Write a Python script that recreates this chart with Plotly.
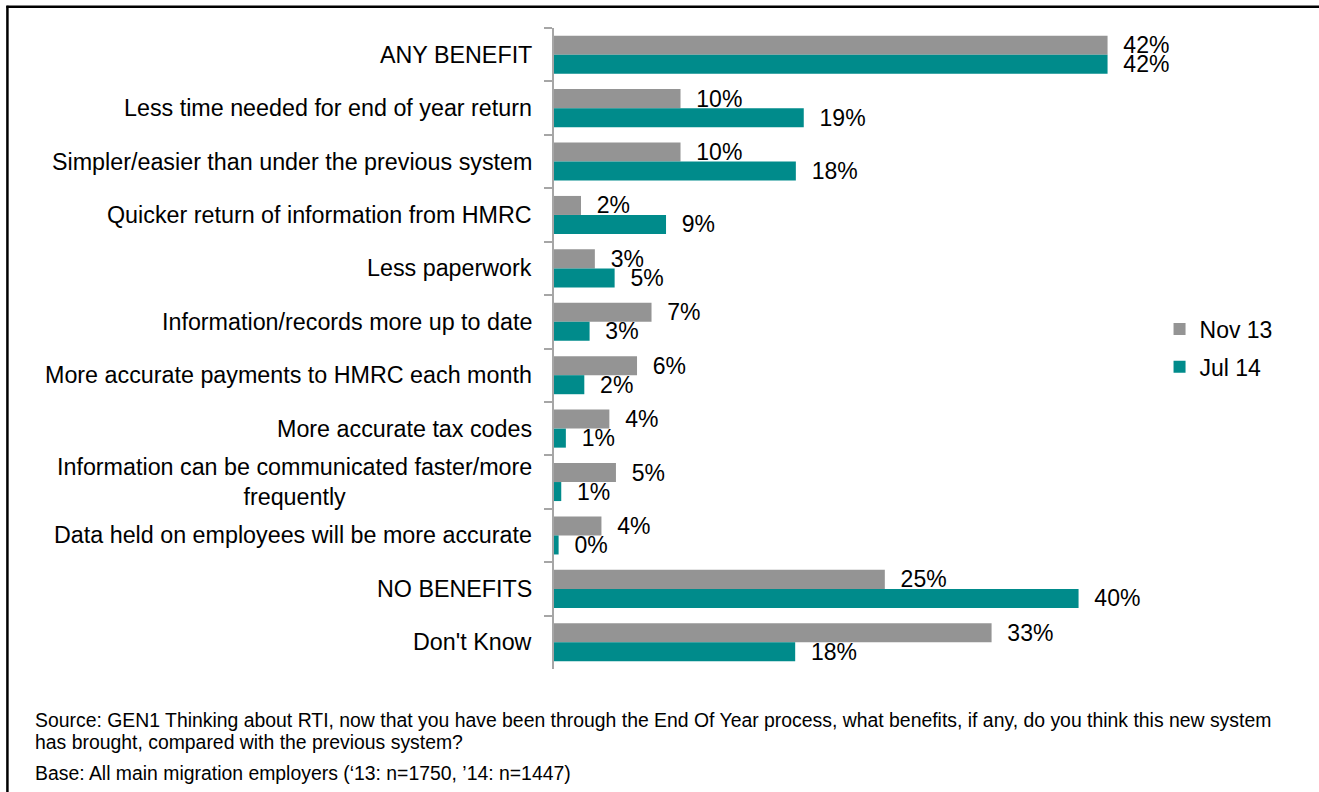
import plotly.graph_objects as go

# Survey answers, listed top to bottom
categories = [
    "ANY BENEFIT",
    "Less time needed for end of year return",
    "Simpler/easier than under the previous system",
    "Quicker return of information from HMRC",
    "Less paperwork",
    "Information/records more up to date",
    "More accurate payments to HMRC each month",
    "More accurate tax codes",
    "Information can be communicated faster/more<br>frequently",
    "Data held on employees will be more accurate",
    "NO BENEFITS",
    "Don't Know",
]

# Percentage of employers per wave
nov13 = [42.0, 9.6, 9.6, 2.05, 3.1, 7.4, 6.3, 4.2, 4.7, 3.6, 25.1, 33.2]
jul14 = [42.0, 18.95, 18.35, 8.5, 4.6, 2.7, 2.3, 0.9, 0.55, 0.35, 39.8, 18.3]

series_names = ["Nov 13", "Jul 14"]
series_colors = ["#949494", "#008B8B"]

footer_lines = [
    "Source: GEN1 Thinking about RTI, now that you have been through the End Of Year process, "
    "what benefits, if any, do you think this new system",
    "has brought, compared with the previous system?",
    "Base: All main migration employers (\u201813: n=1750, \u201914: n=1447)",
]
footer_y_px = [720, 742, 773]

FONT = "Liberation Sans, Arial, sans-serif"
W, H = 1319, 792
L, R, T, B = 554, 105.5, 28.3, 123.3
plot_w = W - L - R
plot_h = H - T - B


def px_to_xpaper(px):
    return (px - L) / plot_w


def px_to_ypaper(py):
    return 1 - (py - T) / plot_h


fig = go.Figure()
for name, vals, col in zip(series_names, [nov13, jul14], series_colors):
    fig.add_trace(go.Bar(
        y=categories,
        x=vals,
        orientation="h",
        name=name,
        legendgroup=name,
        marker=dict(color=col, line=dict(width=0)),
        texttemplate="\u00a0\u00a0%{x:.0f}%",
        textposition="outside",
        constraintext="none",
        cliponaxis=False,
        textfont=dict(family=FONT, size=23, color="#000000"),
        hoverinfo="x+y",
    ))

annotations = []
# category labels, right aligned against the axis; wrapped lines centred
for cat in categories:
    annotations.append(dict(
        x=0, xref="paper", y=cat, yref="y",
        text=cat, showarrow=False,
        xanchor="right", yanchor="middle", align="center",
        xshift=-20,
        font=dict(family=FONT, size=23.3, color="#000000"),
    ))

# source and base notes under the chart
for line, ypx in zip(footer_lines, footer_y_px):
    annotations.append(dict(
        x=px_to_xpaper(33), xref="paper", y=px_to_ypaper(ypx), yref="paper",
        text=line, showarrow=False, xanchor="left", yanchor="middle", align="left",
        font=dict(family=FONT, size=19.4, color="#000000"),
    ))

# frame around the figure (left and top edges)
shapes = [
    dict(type="line", xref="paper", yref="paper",
         x0=px_to_xpaper(7), x1=px_to_xpaper(7), y0=px_to_ypaper(6), y1=px_to_ypaper(800),
         line=dict(color="#000000", width=2.5)),
    dict(type="line", xref="paper", yref="paper",
         x0=px_to_xpaper(6), x1=px_to_xpaper(1330), y0=px_to_ypaper(7), y1=px_to_ypaper(7),
         line=dict(color="#000000", width=2.5)),
]

fig.update_layout(
    width=W, height=H,
    margin=dict(l=L, r=R, t=T, b=B, pad=0),
    paper_bgcolor="#FFFFFF",
    plot_bgcolor="#FFFFFF",
    barmode="group",
    bargap=0.288,
    bargroupgap=0,
    showlegend=True,
    legend=dict(
        x=px_to_xpaper(1160), y=px_to_ypaper(348), xref="paper", yref="paper",
        xanchor="left", yanchor="middle",
        traceorder="grouped", tracegroupgap=5,
        font=dict(family=FONT, size=23, color="#000000"),
        bgcolor="rgba(0,0,0,0)",
    ),
    xaxis=dict(
        range=[0, 50], visible=False, fixedrange=True,
    ),
    yaxis=dict(
        type="category",
        autorange="reversed",
        showticklabels=False,
        showgrid=False,
        zeroline=False,
        showline=True, linecolor="#A6A6A6", linewidth=2,
        ticks="outside", tickson="boundaries", ticklen=8, tickcolor="#A6A6A6", tickwidth=1.5,
    ),
    annotations=annotations,
    shapes=shapes,
    font=dict(family=FONT),
)

fig.write_html("out.html")
